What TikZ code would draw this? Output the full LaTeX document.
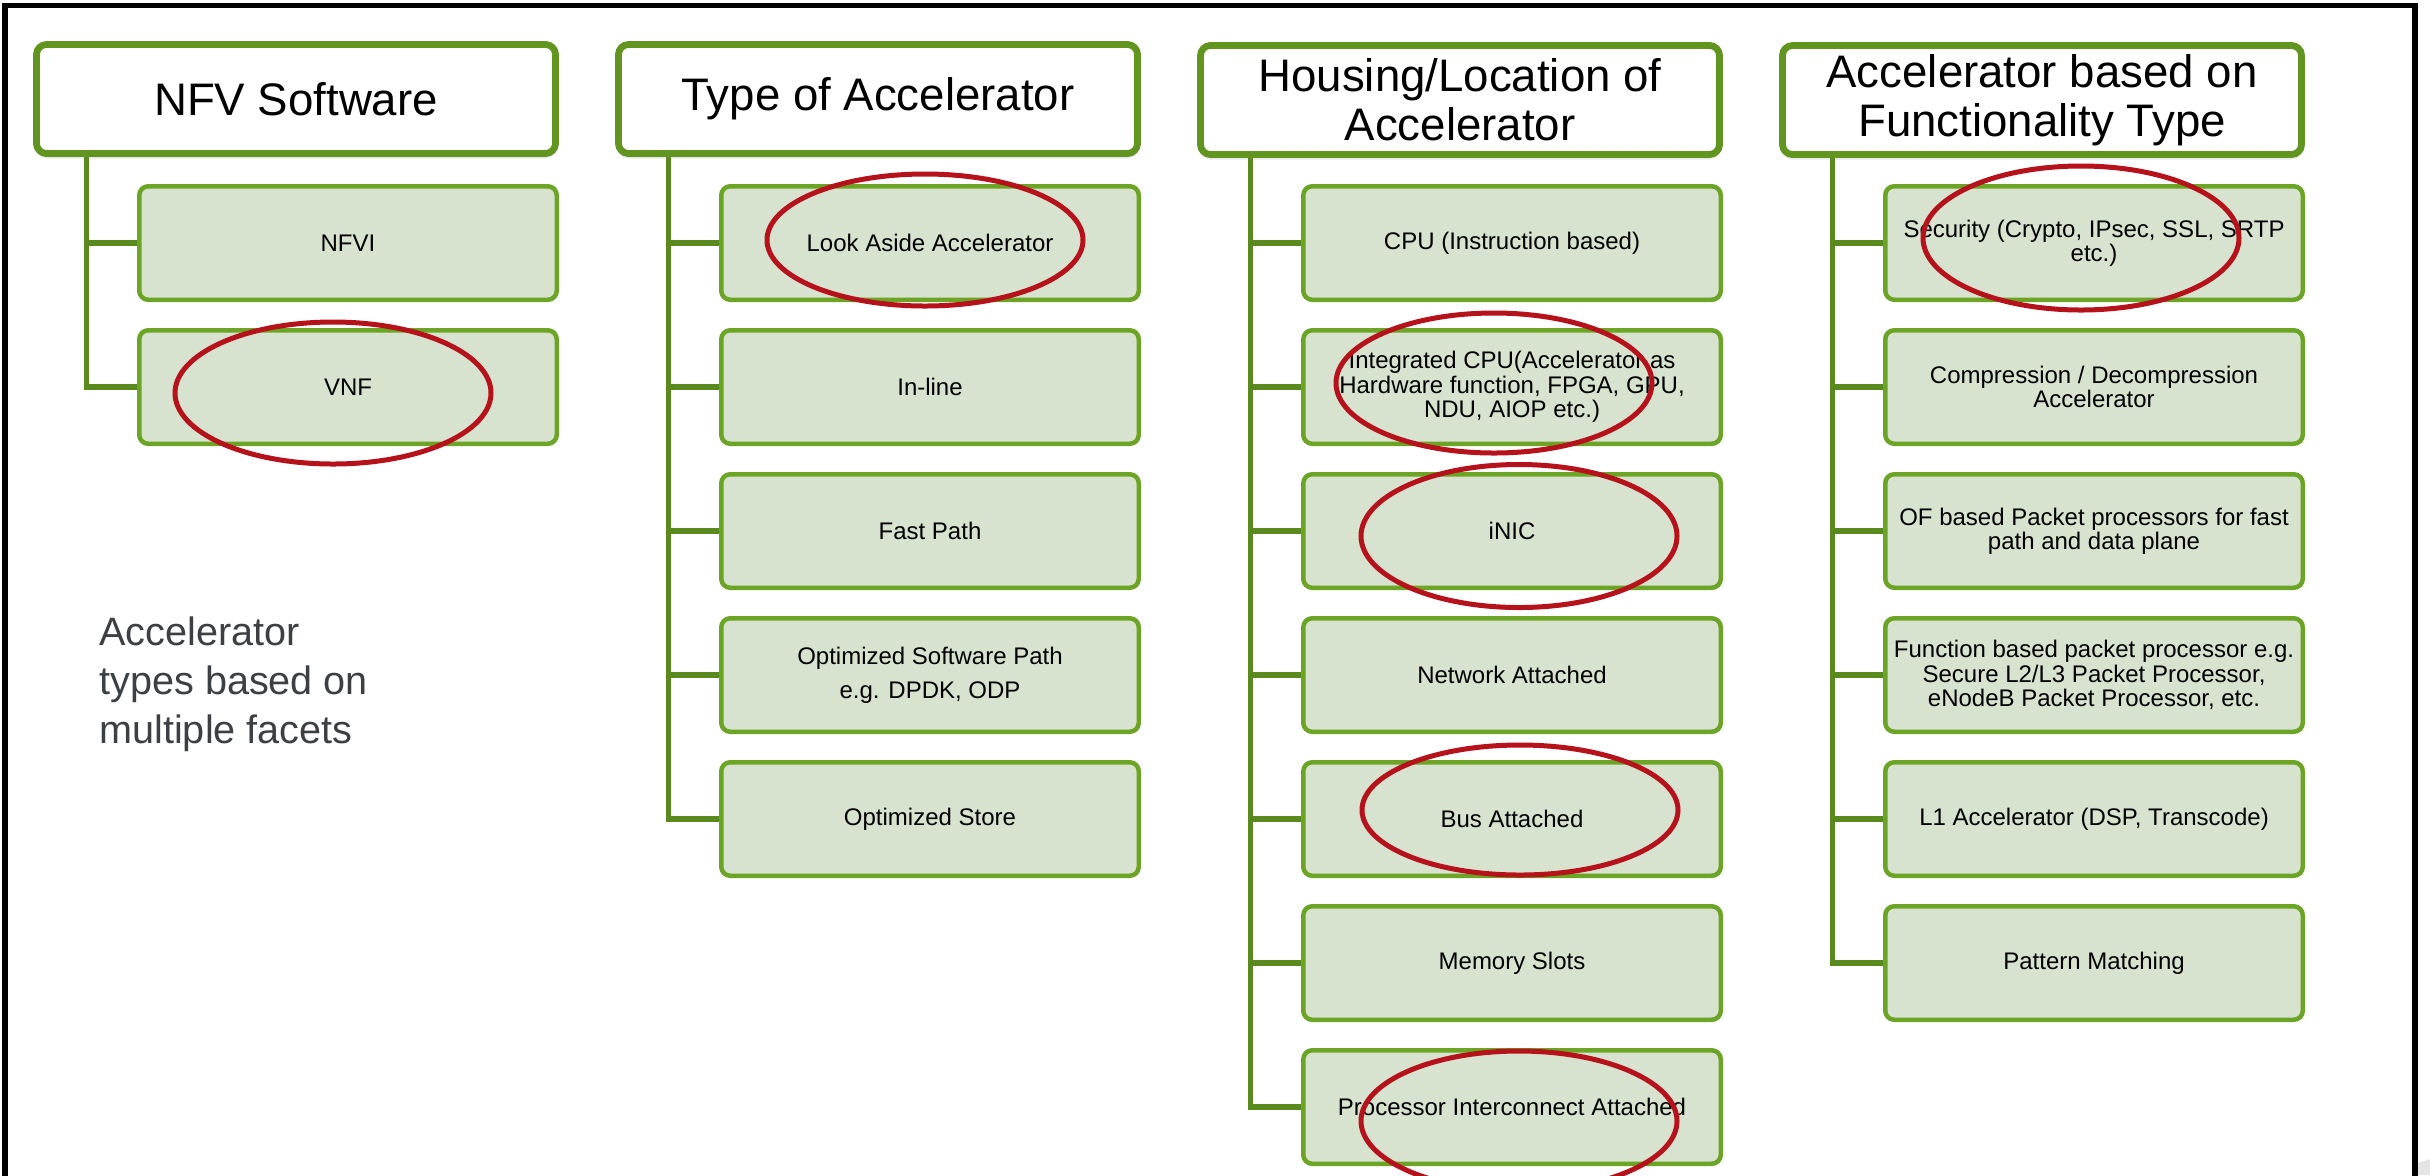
\documentclass[tikz,border=0pt]{standalone}
\usepackage{fontspec}
\setmainfont{Liberation Sans}
\usetikzlibrary{shadows,backgrounds}
\definecolor{hdrgreen}{HTML}{62951F}
\definecolor{boxgreen}{HTML}{6CA425}
\definecolor{treegreen}{HTML}{5A8A1E}
\definecolor{boxfill}{HTML}{D8E3CF}
\definecolor{ringred}{HTML}{B5121B}
\definecolor{sidegray}{HTML}{3C4043}
\tikzset{
  hdr/.style={draw=hdrgreen, line width=3.4pt, fill=white, rounded corners=5pt,
    minimum width=259.5pt, minimum height=54.5pt, inner sep=0pt, align=center,
    font=\fontsize{22.8}{24.5}\selectfont,
    drop shadow={shadow xshift=0pt, shadow yshift=-2.5pt, opacity=0.18}},
  leaf/.style={draw=boxgreen, line width=2.25pt, fill=boxfill, rounded corners=4.5pt,
    minimum width=208.75pt, minimum height=56.75pt, inner sep=0pt, align=center,
    font=\fontsize{12}{12.2}\selectfont},
  branch/.style={draw=treegreen, line width=2.6pt},
  ring/.style={draw=ringred, line width=2.5pt},
  frameline/.style={draw=black, line width=2.6pt, line join=miter},
}
\begin{document}
\begin{tikzpicture}[x=0.5pt, y=-0.5pt]
\useasboundingbox (0,0) rectangle (2430,1175);
\begin{scope}[on background layer]
  \fill[white] (0,0) rectangle (2430,1175);
\end{scope}
% frame
\draw[frameline] (5,1180) -- (5,5.5) -- (2415,5.5) -- (2415,1180);
\fill[gray!20] (2418,1175) -- (2418,1163) -- (2430,1159) -- (2430,1175) -- cycle;

% column 1
\node[hdr] (h1) at (296,99) {NFV Software};
\node[leaf] (a1) at (348,243) {NFVI};
\node[leaf] (a2) at (348,387) {VNF};

% column 2
\node[hdr] (h2) at (878,99) {Type of Accelerator};
\node[leaf] (b1) at (930,243) {Look Aside Accelerator};
\node[leaf] (b2) at (930,387) {In-line};
\node[leaf] (b3) at (930,531) {Fast Path};
\node[leaf] (b4) at (930,675) {Optimized Software Path\\[5pt]e.g. DPDK, ODP};
\node[leaf] (b5) at (930,819) {Optimized Store};

% column 3
\node[hdr] (h3) at (1460,100) {Housing/Location of\\Accelerator};
\node[leaf] (c1) at (1512,243) {CPU (Instruction based)};
\node[leaf] (c2) at (1512,387) {Integrated CPU(Accelerator as\\Hardware function, FPGA, GPU,\\NDU, AIOP etc.)};
\node[leaf] (c3) at (1512,531) {iNIC};
\node[leaf] (c4) at (1512,675) {Network Attached};
\node[leaf] (c5) at (1512,819) {Bus Attached};
\node[leaf] (c6) at (1512,963) {Memory Slots};
\node[leaf] (c7) at (1512,1107) {Processor Interconnect Attached};

% column 4
\node[hdr] (h4) at (2042,100) {Accelerator based on\\Functionality Type};
\node[leaf] (d1) at (2094,243) {Security (Crypto, IPsec, SSL, SRTP\\etc.)};
\node[leaf] (d2) at (2094,387) {Compression / Decompression\\Accelerator};
\node[leaf] (d3) at (2094,531) {OF based Packet processors for fast\\path and data plane};
\node[leaf] (d4) at (2094,675) {Function based packet processor e.g.\\Secure L2/L3 Packet Processor,\\eNodeB Packet Processor, etc.};
\node[leaf] (d5) at (2094,819) {L1 Accelerator (DSP, Transcode)};
\node[leaf] (d6) at (2094,963) {Pattern Matching};

% side text
\node[anchor=north west, align=left, text=sidegray, inner sep=0pt,
  font=\fontsize{19.8}{24.5}\selectfont] (side) at (99,616)
  {Accelerator\\types based on\\multiple facets};

% tree connectors
\begin{scope}[on background layer]
  \foreach \c in {a1,a2} \draw[branch] ([xshift=26.75pt]h1.south west) |- (\c.west);
  \foreach \c in {b1,b2,b3,b4,b5} \draw[branch] ([xshift=26.75pt]h2.south west) |- (\c.west);
  \foreach \c in {c1,c2,c3,c4,c5,c6,c7} \draw[branch] ([xshift=26.75pt]h3.south west) |- (\c.west);
  \foreach \c in {d1,d2,d3,d4,d5,d6} \draw[branch] ([xshift=26.75pt]h4.south west) |- (\c.west);
\end{scope}

% red highlight ellipses
\draw[ring] (333,393) ellipse [x radius=79pt, y radius=35.5pt];
\draw[ring] (925,240) ellipse [x radius=79pt, y radius=33pt];
\draw[ring] (1494,383) ellipse [x radius=79pt, y radius=35pt];
\draw[ring] (1519,536) ellipse [x radius=79pt, y radius=35.75pt];
\draw[ring] (1520,810) ellipse [x radius=79pt, y radius=32.5pt];
\draw[ring] (1519,1121) ellipse [x radius=79pt, y radius=35pt];
\draw[ring] (2081,238) ellipse [x radius=79pt, y radius=36pt];
\end{tikzpicture}
\end{document}
